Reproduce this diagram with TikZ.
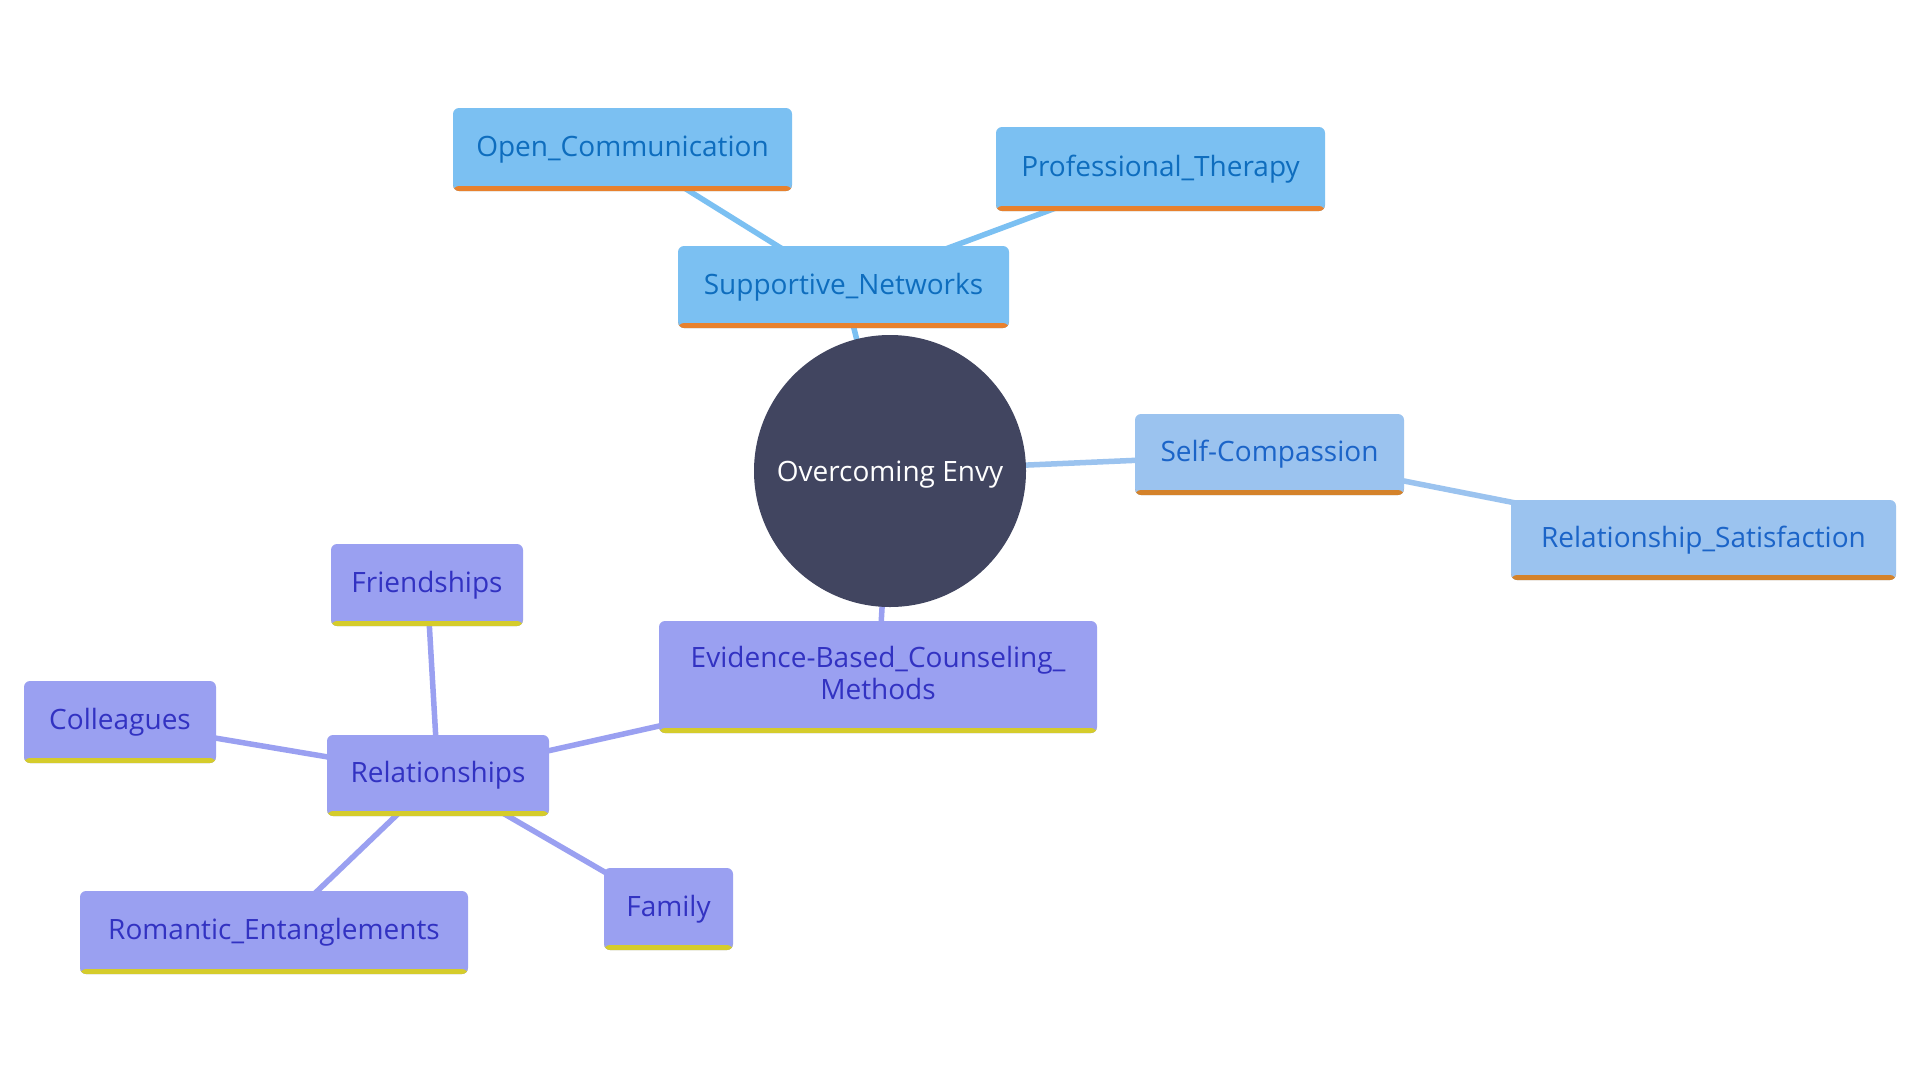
\documentclass[tikz,border=0pt]{standalone}
\usepackage{fontspec}
\setmainfont{Open Sans}
\usetikzlibrary{backgrounds}
\definecolor{blueFill}{HTML}{7BC0F2}
\definecolor{blueText}{HTML}{0E6DBE}
\definecolor{orangeBar}{HTML}{E8812D}
\definecolor{scFill}{HTML}{9BC3EF}
\definecolor{scText}{HTML}{1B64C8}
\definecolor{scBar}{HTML}{D4822A}
\definecolor{purFill}{HTML}{9AA0F1}
\definecolor{purText}{HTML}{3232C2}
\definecolor{purBar}{HTML}{D5CC2B}
\definecolor{core}{HTML}{414560}
\tikzset{
  x=1pt, y=-1pt,
  txt/.style={font=\fontsize{28}{32}\selectfont},
  box/.style={rectangle, rounded corners=6pt, inner sep=0pt, txt, align=center,
    path picture={\fill[#1] (path picture bounding box.south west) rectangle ([yshift=5pt]path picture bounding box.south east);}},
  bluebox/.style={box=orangeBar, fill=blueFill, text=blueText},
  scbox/.style={box=scBar, fill=scFill, text=scText},
  purbox/.style={box=purBar, fill=purFill, text=purText},
  link/.style={line width=5.5pt},
}
\newcommand{\up}[1]{\raisebox{3pt}{#1}}
\begin{document}
\begin{tikzpicture}
\useasboundingbox (0,0) rectangle (1920,1080);
\node[circle, fill=core, minimum size=272pt, text=white, txt] (root) at (890,471) {\raisebox{-10pt}[0pt][0pt]{Overcoming Envy}};
\node[bluebox, minimum width=331pt, minimum height=82pt] (supp) at (843.5,287) {\up{Supportive\_Networks}};
\node[bluebox, minimum width=339pt, minimum height=83pt] (open) at (622.5,149.5) {\up{Open\_Communication}};
\node[bluebox, minimum width=329pt, minimum height=84pt] (prof) at (1160.5,169) {\up{Professional\_Therapy}};
\node[scbox, minimum width=269pt, minimum height=81pt] (sc) at (1269.5,454.5) {\up{Self-Compassion}};
\node[scbox, minimum width=385pt, minimum height=80pt] (rs) at (1703.5,540) {\up{Relationship\_Satisfaction}};
\node[purbox, minimum width=438pt, minimum height=112pt] (eb) at (878,677) {\up{\begin{tabular}{@{}c@{}}Evidence-Based\_Counseling\_\\Methods\end{tabular}}};
\node[purbox, minimum width=222pt, minimum height=81pt] (rel) at (438,775.5) {\up{Relationships}};
\node[purbox, minimum width=192pt, minimum height=82pt] (fri) at (427,585) {\up{Friendships}};
\node[purbox, minimum width=192pt, minimum height=82pt] (col) at (120,722) {\up{Colleagues}};
\node[purbox, minimum width=129pt, minimum height=82pt] (fam) at (668.5,909) {\up{Family}};
\node[purbox, minimum width=388pt, minimum height=83pt] (rom) at (274,932.5) {\up{Romantic\_Entanglements}};
\begin{scope}[on background layer]
\fill[white] (0,0) rectangle (1920,1080);
\draw[link, blueFill] (root.center) -- (supp.center);
\draw[link, blueFill] (supp.center) -- (open.center);
\draw[link, blueFill] (supp.center) -- (prof.center);
\draw[link, scFill] (root.center) -- (sc.center);
\draw[link, scFill] (sc.center) -- (rs.center);
\draw[link, purFill] (root.center) -- (eb.center);
\draw[link, purFill] (eb.center) -- (rel.center);
\draw[link, purFill] (rel.center) -- (fri.center);
\draw[link, purFill] (rel.center) -- (col.center);
\draw[link, purFill] (rel.center) -- (fam.center);
\draw[link, purFill] (rel.center) -- (rom.center);
\end{scope}
\end{tikzpicture}
\end{document}
